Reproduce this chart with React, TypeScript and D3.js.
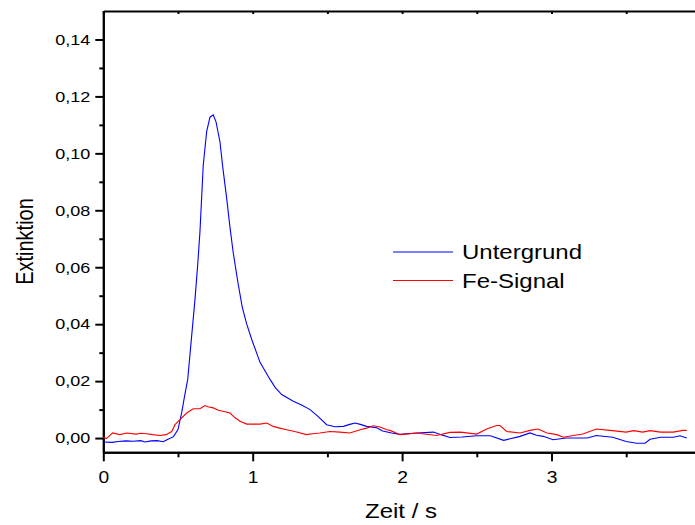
import React, { useRef, useEffect } from 'react';
import * as d3 from 'd3';

// Untergrund (blue) - time in s, extinction
const untergrundT = [0, 0.06, 0.1, 0.15, 0.2, 0.25, 0.28, 0.32, 0.36, 0.4, 0.43, 0.47, 0.5, 0.525, 0.545, 0.565, 0.59, 0.614, 0.632, 0.647, 0.669, 0.692, 0.714, 0.736, 0.755, 0.781, 0.8, 0.826, 0.848, 0.87, 0.9, 0.93, 0.96, 0.993, 1.049, 1.116, 1.15, 1.194, 1.272, 1.33, 1.384, 1.437, 1.495, 1.55, 1.607, 1.65, 1.685, 1.72, 1.763, 1.83, 1.87, 1.93, 1.986, 2.1, 2.21, 2.26, 2.32, 2.4, 2.5, 2.59, 2.68, 2.79, 2.856, 2.9, 2.945, 3.01, 3.1, 3.24, 3.3, 3.41, 3.5, 3.57, 3.626, 3.66, 3.73, 3.815, 3.86, 3.905];
const untergrundV = [-0.0014, -0.0015, -0.0012, -0.001, -0.0011, -0.0009, -0.0014, -0.001, -0.0009, -0.0013, -0.0005, 0.0005, 0.003, 0.009, 0.015, 0.0206, 0.035, 0.0489, 0.061, 0.0725, 0.0959, 0.1077, 0.1127, 0.1135, 0.111, 0.104, 0.095, 0.0841, 0.074, 0.065, 0.055, 0.046, 0.04, 0.0347, 0.0266, 0.0206, 0.0178, 0.0153, 0.0129, 0.0115, 0.01, 0.0076, 0.0047, 0.004, 0.0041, 0.0048, 0.0053, 0.0048, 0.0041, 0.0036, 0.0025, 0.0018, 0.0013, 0.0018, 0.0021, 0.0012, 0.0002, 0.0004, 0.0008, 0.0008, -0.0008, 0.0006, 0.0018, 0.001, 0.0006, -0.0006, 0, 0, 0.0009, 0.0003, -0.0012, -0.0018, -0.0018, -0.0004, 0.0003, 0.0003, 0.0008, 0];

// Fe-Signal (red)
const feT = [0, 0.02, 0.063, 0.11, 0.157, 0.22, 0.25, 0.29, 0.33, 0.38, 0.42, 0.458, 0.48, 0.513, 0.558, 0.602, 0.647, 0.68, 0.7, 0.736, 0.77, 0.8, 0.848, 0.88, 0.915, 0.96, 1.049, 1.094, 1.138, 1.18, 1.228, 1.294, 1.36, 1.4, 1.45, 1.517, 1.584, 1.651, 1.718, 1.763, 1.807, 1.852, 1.897, 1.919, 1.986, 2.1, 2.23, 2.32, 2.39, 2.5, 2.566, 2.633, 2.655, 2.7, 2.79, 2.856, 2.91, 2.97, 3.035, 3.08, 3.146, 3.21, 3.3, 3.39, 3.5, 3.55, 3.61, 3.66, 3.73, 3.815, 3.88, 3.905];
const feV = [0.0004, -0.0002, 0.0018, 0.0012, 0.0018, 0.0014, 0.0017, 0.0015, 0.0012, 0.0009, 0.0012, 0.0023, 0.0047, 0.0065, 0.0088, 0.0103, 0.0103, 0.0114, 0.011, 0.0106, 0.0098, 0.0094, 0.0088, 0.0072, 0.0059, 0.0049, 0.0049, 0.0053, 0.0041, 0.0035, 0.0029, 0.0021, 0.0012, 0.0015, 0.0018, 0.0023, 0.0021, 0.0018, 0.0029, 0.0035, 0.0043, 0.0039, 0.0029, 0.0027, 0.0012, 0.0018, 0.0009, 0.002, 0.0021, 0.0014, 0.0032, 0.0044, 0.0044, 0.0023, 0.0018, 0.0027, 0.0032, 0.0018, 0.0012, 0.0003, 0.0009, 0.0014, 0.0032, 0.0027, 0.0021, 0.0026, 0.0021, 0.0026, 0.0021, 0.0021, 0.0027, 0.0027];

const xMajor = [0, 1, 2, 3, 4];
const xMinor = [0.5, 1.5, 2.5, 3.5];
const yMajor = [0, 0.02, 0.04, 0.06, 0.08, 0.1, 0.12, 0.14];
const yMinor = [0.01, 0.03, 0.05, 0.07, 0.09, 0.11, 0.13];

const seriesNames = ['Untergrund', 'Fe-Signal'];
const seriesColors = ['#0000ff', '#ff0000'];

const FONT = 'Arial, "Liberation Sans", sans-serif';
const SX = 1.2; // the original picture is stretched horizontally

const Chart = ({ width, height }) => {
  const svgRef = useRef(null);

  useEffect(() => {
    const svg = d3.select(svgRef.current);
    svg.selectAll('*').remove();

    const x = d3.scaleLinear().domain([0, 4]).range([103.3, 700.9]);
    const y = d3.scaleLinear().domain([-0.005, 0.15]).range([452.3, 11]);

    const styleAxis = (g, size = 15) => {
      g.select('.domain').attr('stroke', '#000').attr('stroke-width', 2);
      g.selectAll('.tick line').attr('stroke', '#000').attr('stroke-width', 2);
      g.selectAll('text')
        .attr('font-family', FONT)
        .attr('font-size', size)
        .attr('fill', '#000')
        .each(function () {
          const t = d3.select(this);
          const tx = +t.attr('x') || 0;
          t.attr('x', tx / SX).attr('transform', `scale(${SX},1)`);
        });
    };

    const fmt = (d) => d3.format('.2f')(d).replace('.', ',');

    // bottom axis
    svg.append('g')
      .attr('transform', `translate(0,${y(-0.005)})`)
      .call(d3.axisBottom(x).tickValues(xMinor).tickSize(5).tickFormat(() => '').tickSizeOuter(0))
      .call(styleAxis);
    svg.append('g')
      .attr('transform', `translate(0,${y(-0.005)})`)
      .call(d3.axisBottom(x).tickValues(xMajor).tickSize(9).tickPadding(10).tickFormat(d3.format('d')).tickSizeOuter(0))
      .call(g => styleAxis(g, 16));

    // top axis (no labels, ticks inward)
    svg.append('g')
      .attr('transform', `translate(0,${y(0.15)})`)
      .call(d3.axisBottom(x).tickValues([...xMajor, ...xMinor]).tickSize(3).tickFormat(() => '').tickSizeOuter(0))
      .call(styleAxis);

    // left axis
    svg.append('g')
      .attr('transform', `translate(${x(0)},0)`)
      .call(d3.axisLeft(y).tickValues(yMinor).tickSize(4).tickFormat(() => '').tickSizeOuter(0))
      .call(styleAxis);
    svg.append('g')
      .attr('transform', `translate(${x(0)},0)`)
      .call(d3.axisLeft(y).tickValues(yMajor).tickSize(8).tickPadding(5).tickFormat(fmt).tickSizeOuter(0))
      .call(g => styleAxis(g, 15));

    const line = d3.line()
      .x(d => x(d[0]))
      .y(d => y(d[1]));

    const series = [
      d3.zip(untergrundT, untergrundV),
      d3.zip(feT, feV),
    ];

    series.forEach((s, i) => {
      svg.append('path')
        .datum(s)
        .attr('fill', 'none')
        .attr('stroke', seriesColors[i])
        .attr('stroke-width', 1.1)
        .attr('d', line);
    });

    // legend
    const legend = svg.append('g');
    seriesNames.forEach((name, i) => {
      const ly = 252 + i * 28.5;
      legend.append('line')
        .attr('x1', 393).attr('x2', 453)
        .attr('y1', ly).attr('y2', ly)
        .attr('stroke', seriesColors[i]).attr('stroke-width', 1);
      legend.append('text')
        .attr('transform', `translate(462,${ly + 7}) scale(${SX},1)`)
        .attr('font-family', FONT).attr('font-size', 20)
        .text(name);
    });

    // axis titles
    svg.append('text')
      .attr('transform', `translate(33,241.5) scale(${SX},1) rotate(-90)`)
      .attr('text-anchor', 'middle')
      .attr('font-family', FONT).attr('font-size', 20)
      .text('Extinktion');
    svg.append('text')
      .attr('transform', `translate(401,518) scale(${SX},1)`)
      .attr('text-anchor', 'middle')
      .attr('font-family', FONT).attr('font-size', 20)
      .text('Zeit / s');
  }, [width, height]);

  return (
    <svg
      ref={svgRef}
      width={width}
      height={height}
      style={{ position: 'absolute', left: 0, top: 0, overflow: 'hidden', background: '#fff' }}
    />
  );
};

export default function App() {
  return <Chart width={695} height={525} />;
}
